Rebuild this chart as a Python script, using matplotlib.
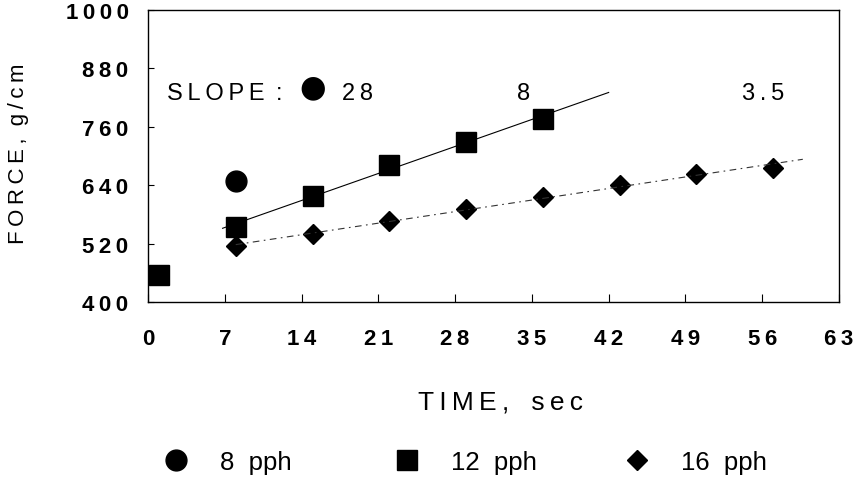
import numpy as np
import matplotlib
matplotlib.use("Agg")
import matplotlib.pyplot as plt

# ---- data ----
circle_x = [8]
circle_y = [648]
square_x = [1, 8, 15, 22, 29, 36]
square_y = [455, 555, 618, 681, 729, 777]
diamond_x = [8, 15, 22, 29, 36, 43, 50, 57]
diamond_y = [515, 540, 566, 591, 616, 640, 664, 676]
series_labels = ["8  pph", "12  pph", "16  pph"]
slope_labels = ["28", "8", "3.5"]
x_ticks = [0, 7, 14, 21, 28, 35, 42, 49, 56, 63]
y_ticks = [400, 520, 640, 760, 880, 1000]

plt.rcParams['font.family'] = ['Liberation Sans', 'DejaVu Sans']

W, H = 855, 481
fig = plt.figure(figsize=(W/100, H/100), dpi=100)
ax = fig.add_axes([148/W, 1-303/H, (839-148)/W, (303-11)/H])

SP = '\u2009'
def spaced(v):
    return SP.join(str(v))

h_c, = ax.plot(circle_x, circle_y, 'o', ms=15, color='black', label=series_labels[0])
h_s, = ax.plot(square_x, square_y, 's', ms=14.5, color='black', label=series_labels[1])
h_d, = ax.plot(diamond_x, diamond_y, 'D', ms=10.5, color='black', label=series_labels[2])

# regression lines
sx = np.array(square_x[1:]); sy = np.array(square_y[1:])
ps = np.polyfit(sx, sy, 1)
xs = np.array([6.8, 42])
ax.plot(xs, np.polyval(ps, xs), '-', color='black', lw=0.8)

dx = np.array(diamond_x); dy = np.array(diamond_y)
pd_ = np.polyfit(dx, dy, 1)
xd = np.array([8, 59.7])
ax.plot(xd, np.polyval(pd_, xd), color='#333333', lw=0.8, linestyle=(0, (6, 4, 1.5, 4)))

ax.set_xlim(0, 63)
ax.set_ylim(400, 1000)
ax.set_xticks(x_ticks)
ax.set_xticklabels([spaced(v) for v in x_ticks], fontsize=16, fontweight='bold')
ax.set_yticks(y_ticks)
ax.set_yticklabels([spaced(v) for v in y_ticks], fontsize=16, fontweight='bold')
ax.tick_params(axis='x', direction='in', length=6, width=0.8, pad=19)
ax.tick_params(axis='y', direction='in', length=4, width=0.8, pad=14)
for s in ax.spines.values():
    s.set_linewidth(1.0)

# slope annotations
ax.text(1.7, 830, spaced("SLOPE") + " " + SP + ":", fontsize=17, va='center', ha='left')
ax.text(15, 843, "\u25CF", fontsize=22, va='center', ha='center', family=['DejaVu Sans'])
ax.text(19.1, 830, spaced(slope_labels[0]), fontsize=17, va='center', ha='center')
ax.text(34.2, 830, spaced(slope_labels[1]), fontsize=17, va='center', ha='center')
ax.text(56.1, 830, spaced(slope_labels[2]), fontsize=17, va='center', ha='center')

ax.set_xlabel(spaced("TIME,") + "   " + spaced("sec"), fontsize=19)
ax.xaxis.set_label_coords((500-148)/691, (303-391)/292)
ax.set_ylabel(spaced("FORCE,") + "  " + spaced("g/cm"), fontsize=16)
ax.yaxis.set_label_coords((29-148)/691, (303-154)/292)

# legend entries
marker_px = [176, 407, 637]
fs_leg = 18.5
em = fs_leg * 100 / 72
for h, lab, mx in zip([h_c, h_s, h_d], series_labels, marker_px):
    fig.legend(handles=[h], labels=[lab], loc='center left',
               bbox_to_anchor=((mx - 0.5*em)/W, 1-463/H), frameon=False,
               fontsize=fs_leg, handlelength=1.0, handletextpad=(44-0.5*em)/em,
               borderpad=0, borderaxespad=0)

fig.savefig("out.png", dpi=100)
